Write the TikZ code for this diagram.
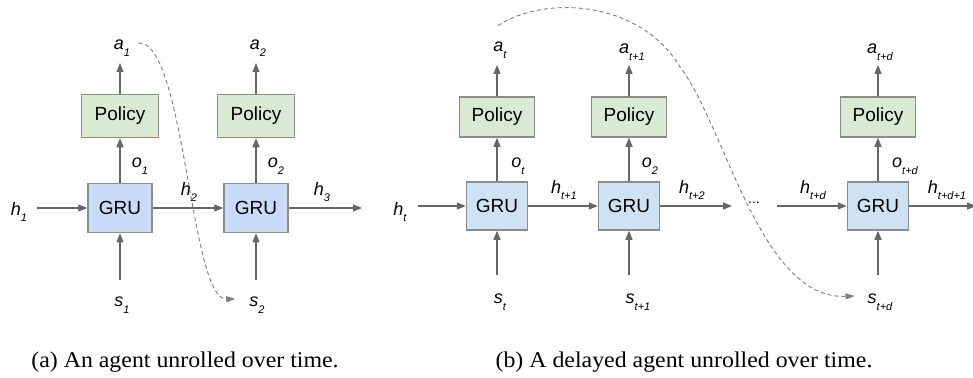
\documentclass[tikz,border=0pt]{standalone}
\usepackage{fontspec}
\setmainfont{Liberation Serif}
\newfontfamily\arialfont{Liberation Sans}
\newfontfamily\capfont[FakeStretch=1.06]{Liberation Serif}
\usetikzlibrary{arrows.meta,calc}

\definecolor{grublue}{HTML}{C9DAF8}
\definecolor{grulight}{HTML}{CFE2F3}
\definecolor{polgreen}{HTML}{D9EAD3}
\definecolor{boxgray}{HTML}{8C8C8C}
\definecolor{arrgray}{HTML}{666666}

% label with a lowered small index
\newcommand{\lbl}[2]{#1\raisebox{-0.7ex}{\fontsize{11}{11}\selectfont #2}}

\tikzset{
  gru/.style={draw=boxgray, line width=1.5pt, fill=grublue, inner sep=0pt,
    minimum width=64pt, minimum height=49pt, font=\arialfont\fontsize{19}{19}\selectfont},
  gruright/.style={gru, fill=grulight, minimum width=61pt, minimum height=48pt},
  policy/.style={gru, fill=polgreen, minimum width=77pt, minimum height=43pt},
  policyright/.style={policy, minimum width=75pt, minimum height=40pt},
  lab/.style={inner sep=0pt, font=\arialfont\itshape\fontsize{18}{18}\selectfont},
  flow/.style={draw=arrgray, line width=1.3pt, -{Triangle[length=9pt,width=7pt]}},
  delay/.style={draw=arrgray!85, line width=0.9pt, dash pattern=on 4pt off 3pt,
    -{Triangle[length=9pt,width=6pt]}},
  caption/.style={inner sep=0pt, font=\capfont\fontsize{22.5}{23}\selectfont}
}

\begin{document}
\begin{tikzpicture}[x=1pt,y=-1pt]
\useasboundingbox (0,0) rectangle (973,377);

% (a) agent unrolled
\node[gru] (gru1) at (120,208) {GRU};
\node[gru] (gru2) at (256,208) {GRU};
\node[policy] (pol1) at (120,116) {Policy};
\node[policy] (pol2) at (256,116) {Policy};
\node[lab] (a1) at (122,48) {\lbl{a}{1}};
\node[lab] (a2) at (258,48) {\lbl{a}{2}};
\node[lab] (o1) at (140,166) {\lbl{o}{1}};
\node[lab] (o2) at (276,166) {\lbl{o}{2}};
\node[lab] (h1) at (19,212) {\lbl{h}{1}};
\node[lab] (h2) at (189,192) {\lbl{h}{2}};
\node[lab] (h3) at (322,192) {\lbl{h}{3}};
\node[lab] (s1) at (122,305) {\lbl{s}{1}};
\node[lab] (s2) at (257,305) {\lbl{s}{2}};
\coordinate (h1in) at (37,208);
\coordinate (h3out) at (362,208);
\coordinate (s1in) at (120,280);
\coordinate (s2in) at (256,280);

\draw[flow] (h1in) -- (gru1.west);
\draw[flow] (gru1.east) -- (gru2.west);
\draw[flow] (gru2.east) -- (h3out);
\draw[flow] (s1in) -- (gru1.south);
\draw[flow] (s2in) -- (gru2.south);
\draw[flow] (gru1.north) -- (pol1.south);
\draw[flow] (gru2.north) -- (pol2.south);
\draw[flow] (pol1.north) -- (pol1.north |- 0,63);
\draw[flow] (pol2.north) -- (pol2.north |- 0,63);
\draw[delay] ($(a1.east)+(8,-5)$) .. controls (185,40) and (190,300) .. ($(s2.west)+(-14,-6)$);

% (b) delayed agent unrolled
\node[gruright] (grut) at (497,206) {GRU};
\node[gruright] (gruu) at (629,206) {GRU};
\node[gruright] (grud) at (878,206) {GRU};
\node[policyright] (polt) at (497,117) {Policy};
\node[policyright] (polu) at (629,117) {Policy};
\node[policyright] (pold) at (878,117) {Policy};
\node[lab] (at) at (500,50) {\lbl{a}{t}};
\node[lab] (au) at (632,52) {\lbl{a}{t+1}};
\node[lab] (ad) at (880,52) {\lbl{a}{t+d}};
\node[lab] (ot) at (518,166) {\lbl{o}{t}};
\node[lab] (ou) at (650,166) {\lbl{o}{2}};
\node[lab] (od) at (905,166) {\lbl{o}{t+d}};
\node[lab] (ht) at (400,212) {\lbl{h}{t}};
\node[lab] (hu) at (564,190) {\lbl{h}{t+1}};
\node[lab] (hv) at (692,190) {\lbl{h}{t+2}};
\node[lab] (hd) at (813,190) {\lbl{h}{t+d}};
\node[lab] (he) at (947,190) {\lbl{h}{t+d+1}};
\node[lab] (st) at (500,302) {\lbl{s}{t}};
\node[lab] (su) at (638,302) {\lbl{s}{t+1}};
\node[lab] (sd) at (880,302) {\lbl{s}{t+d}};
\node[inner sep=0pt, font=\arialfont\fontsize{14}{14}\selectfont] (dots) at (754,203) {...};
\coordinate (htin) at (418,206);
\coordinate (hvout) at (732,206);
\coordinate (hdin) at (777,206);
\coordinate (heout) at (976,206);
\coordinate (stin) at (497,275);
\coordinate (suin) at (629,275);
\coordinate (sdin) at (878,275);

\draw[flow] (htin) -- (grut.west);
\draw[flow] (grut.east) -- (gruu.west);
\draw[flow] (gruu.east) -- (hvout);
\draw[flow] (hdin) -- (grud.west);
\draw[flow] (grud.east) -- (heout);
\draw[flow] (stin) -- (grut.south);
\draw[flow] (suin) -- (gruu.south);
\draw[flow] (sdin) -- (grud.south);
\draw[flow] (grut.north) -- (polt.south);
\draw[flow] (gruu.north) -- (polu.south);
\draw[flow] (grud.north) -- (pold.south);
\draw[flow] (polt.north) -- (polt.north |- 0,65);
\draw[flow] (polu.north) -- (polu.north |- 0,65);
\draw[flow] (pold.north) -- (pold.north |- 0,65);
\draw[delay] ($(at.north)+(-2,-16)$) .. controls (545,-5) and (640,0) .. (680,67)
  .. controls (725,125) and (760,300) .. ($(sd.west)+(-13,-6)$);

% captions
\node[caption] (capa) at (185,362) {(a) An agent unrolled over time.};
\node[caption] (capb) at (684,362) {(b) A delayed agent unrolled over time.};
\end{tikzpicture}
\end{document}
